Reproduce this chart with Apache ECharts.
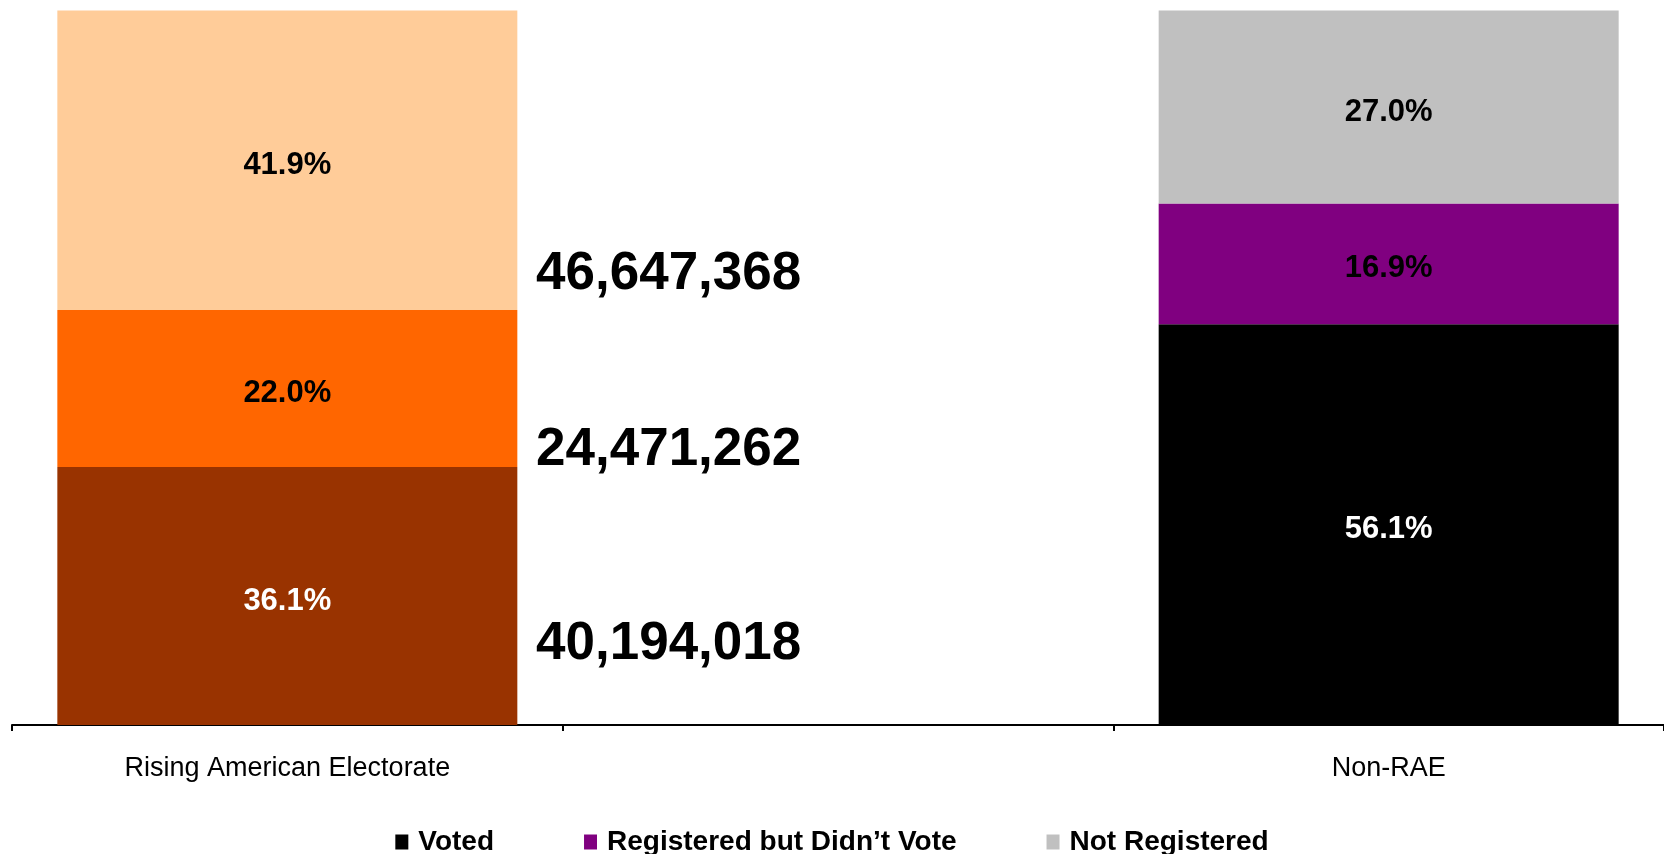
<!DOCTYPE html>
<html>
<head>
<meta charset="utf-8">
<script src="https://cdn.jsdelivr.net/npm/echarts@6/dist/echarts.min.js"></script>
<style>
html,body{margin:0;padding:0;background:#fff;}
#chart{width:1664px;height:854px;}
</style>
</head>
<body>
<div id="chart"></div>
<script>
// Data
const categories = ['Rising American Electorate', '', 'Non-RAE'];
const seriesNames = ['Voted', 'Registered but Didn\u2019t Vote', 'Not Registered'];
const voted = [36.1, null, 56.1];
const registeredNotVoted = [22.0, null, 16.9];
const notRegistered = [41.9, null, 27.0];
const raeCounts = ['40,194,018', '24,471,262', '46,647,368'];

// Styles
const FONT = '"Liberation Sans", Arial, sans-serif';
const legendColors = ['#000000', '#800080', '#C0C0C0'];
const raeColors = ['#993300', '#FF6600', '#FFCC99'];
const raeLabelColors = ['#ffffff', '#000000', '#000000'];
const nonLabelColors = ['#ffffff', '#000000', '#000000'];
const values = [voted, registeredNotVoted, notRegistered];

const chart = echarts.init(document.getElementById('chart'), null, {renderer: 'canvas'});

const series = values.map((arr, si) => ({
  name: seriesNames[si],
  type: 'bar',
  stack: 'total',
  barWidth: 460,
  itemStyle: { color: legendColors[si] },
  data: arr.map((v, ci) => {
    if (v === null) return null;
    const isRAE = ci === 0;
    return {
      value: v,
      itemStyle: { color: isRAE ? raeColors[si] : legendColors[si] },
      label: { color: isRAE ? raeLabelColors[si] : nonLabelColors[si] }
    };
  }),
  label: {
    show: true,
    position: 'inside',
    offset: [0, 5],
    fontFamily: FONT,
    fontWeight: 'bold',
    fontSize: 31,
    formatter: p => p.value.toFixed(1) + '%'
  },
  emphasis: { disabled: true },
  animation: false
}));

// Big count annotations (positions by value on y axis)
const countYValues = [11.5, 38.7, 63.3];

chart.setOption({
  animation: false,
  grid: { left: 12, right: 0, top: 10.6, bottom: 129, containLabel: false },
  legend: {
    data: seriesNames,
    left: 'center',
    top: 823,
    itemWidth: 13,
    itemHeight: 15,
    itemGap: 90,
    icon: 'rect',
    textStyle: {
      fontFamily: FONT,
      fontWeight: 'bold',
      fontSize: 28,
      color: '#000',
      padding: [0, 0, 0, 5]
    }
  },
  xAxis: {
    type: 'category',
    data: categories,
    axisLine: { show: true, lineStyle: { color: '#000', width: 2 } },
    axisTick: { show: true, length: 6, lineStyle: { color: '#000', width: 2 } },
    axisLabel: { fontFamily: FONT, fontSize: 27, color: '#000', margin: 30 },
    splitLine: { show: false }
  },
  yAxis: {
    type: 'value',
    min: 0,
    max: 100,
    show: false
  },
  series: series
});

// place count texts using y scale
const graphics = raeCounts.map((t, i) => {
  const py = chart.convertToPixel({ yAxisIndex: 0 }, countYValues[i]);
  return {
    type: 'text',
    left: 536,
    top: py - 25,
    style: {
      text: t,
      fontFamily: FONT,
      fontWeight: 'bold',
      fontSize: 53,
      fill: '#000'
    }
  };
});
chart.setOption({ graphic: graphics });
</script>
</body>
</html>
